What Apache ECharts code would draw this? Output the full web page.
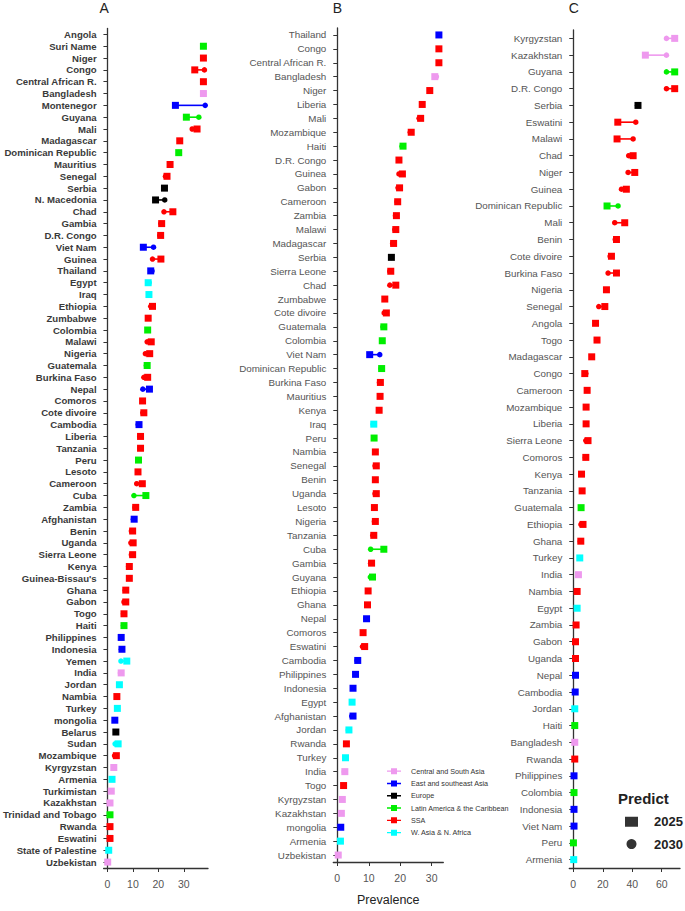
<!DOCTYPE html>
<html><head><meta charset="utf-8">
<script src="https://cdn.jsdelivr.net/npm/echarts@6/dist/echarts.min.js"></script>
<style>html,body{margin:0;padding:0;background:#fff}#chart{width:685px;height:911px}</style>
</head><body><div id="chart"></div>
<script>
// ---------- regions ----------
const regionCodes = ['CSA', 'ESA', 'EUR', 'LAC', 'SSA', 'WANA'];
const regionNames = ['Central and South Asia', 'East and southeast Asia', 'Europe', 'Latin America & the Caribbean', 'SSA', 'W. Asia & N. Africa'];
const regionColors = ['#EE99EE', '#0000FF', '#000000', '#00EE00', '#FF0000', '#00FFFF'];

// ---------- panel A ----------
const countriesA = ['Angola','Suri Name','Niger','Congo','Central African R.','Bangladesh','Montenegor','Guyana','Mali','Madagascar','Dominican Republic','Mauritius','Senegal','Serbia','N. Macedonia','Chad','Gambia','D.R. Congo','Viet Nam','Guinea','Thailand','Egypt','Iraq','Ethiopia','Zumbabwe','Colombia','Malawi','Nigeria','Guatemala','Burkina Faso','Nepal','Comoros','Cote divoire','Cambodia','Liberia','Tanzania','Peru','Lesoto','Cameroon','Cuba','Zambia','Afghanistan','Benin','Uganda','Sierra Leone','Kenya',"Guinea-Bissau's",'Ghana','Gabon','Togo','Haiti','Philippines','Indonesia','Yemen','India','Jordan','Nambia','Turkey','mongolia','Belarus','Sudan','Mozambique','Kyrgyzstan','Armenia','Turkimistan','Kazakhstan','Trinidad and Tobago','Rwanda','Eswatini','State of Palestine','Uzbekistan'];
const regionsA = ['SSA','LAC','SSA','SSA','SSA','CSA','ESA','LAC','SSA','SSA','LAC','SSA','SSA','EUR','EUR','SSA','SSA','SSA','ESA','SSA','ESA','WANA','WANA','SSA','SSA','LAC','SSA','SSA','LAC','SSA','ESA','SSA','SSA','ESA','SSA','SSA','LAC','SSA','SSA','LAC','SSA','ESA','SSA','SSA','SSA','SSA','SSA','SSA','SSA','SSA','LAC','ESA','ESA','WANA','CSA','WANA','SSA','WANA','ESA','EUR','WANA','SSA','CSA','WANA','CSA','CSA','LAC','SSA','SSA','WANA','CSA'];
const prev2025A = [null,37.7,37.7,34.3,37.7,37.7,26.7,31.0,35.2,28.4,28.0,24.6,23.4,22.4,18.9,25.7,21.3,20.9,14.1,21.0,17.0,16.0,16.3,17.7,16.0,15.8,17.2,16.6,15.6,15.8,16.5,13.8,14.3,12.4,13.0,13.0,12.2,12.0,13.7,15.1,11.1,10.5,9.9,10.1,9.9,8.6,8.6,7.2,7.2,6.5,6.5,5.4,5.7,7.6,5.4,4.7,3.7,3.9,2.9,3.3,4.2,3.5,2.5,1.8,1.5,1.0,1.0,1.0,1.0,0.5,0.1];
const prev2030A = [null,37.7,37.7,38.1,37.7,37.7,38.4,35.9,33.3,28.4,28.0,24.6,22.8,22.4,22.5,22.2,21.0,20.6,18.1,17.7,17.5,16.4,16.3,17.0,16.0,15.8,15.6,14.9,15.3,14.3,13.9,13.8,13.9,12.1,12.7,12.8,12.2,12.0,11.5,10.4,10.8,10.2,9.4,9.2,9.4,8.3,8.6,7.0,6.5,6.3,6.3,5.4,5.5,5.3,5.1,4.5,3.7,3.9,2.9,3.3,3.0,2.8,2.5,1.8,1.5,1.0,1.0,1.0,1.0,0.5,0.1];
const ticksA = [0, 10, 20, 30];

// ---------- panel B ----------
const countriesB = ['Thailand','Congo','Central African R.','Bangladesh','Niger','Liberia','Mali','Mozambique','Haiti','D.R. Congo','Guinea','Gabon','Cameroon','Zambia','Malawi','Madagascar','Serbia','Sierra Leone','Chad','Zumbabwe','Cote divoire','Guatemala','Colombia','Viet Nam','Dominican Republic','Burkina Faso','Mauritius','Kenya','Iraq','Peru','Nambia','Senegal','Benin','Uganda','Lesoto','Nigeria','Tanzania','Cuba','Gambia','Guyana','Ethiopia','Ghana','Nepal','Comoros','Eswatini','Cambodia','Philippines','Indonesia','Egypt','Afghanistan','Jordan','Rwanda','Turkey','India','Togo','Kyrgyzstan','Kazakhstan','mongolia','Armenia','Uzbekistan'];
const regionsB = ['ESA','SSA','SSA','CSA','SSA','SSA','SSA','SSA','LAC','SSA','SSA','SSA','SSA','SSA','SSA','SSA','EUR','SSA','SSA','SSA','SSA','LAC','LAC','ESA','LAC','SSA','SSA','SSA','WANA','LAC','SSA','SSA','SSA','SSA','SSA','SSA','SSA','LAC','SSA','LAC','SSA','SSA','ESA','SSA','SSA','ESA','ESA','ESA','WANA','ESA','WANA','SSA','WANA','CSA','SSA','CSA','CSA','ESA','WANA','CSA'];
const prev2025B = [32.3,32.3,32.3,31.0,29.4,27.0,26.5,23.5,20.9,19.6,20.7,19.8,19.2,18.8,18.6,17.9,17.2,17.0,18.6,15.1,15.6,14.8,14.3,10.3,14.1,13.7,13.6,13.3,11.6,11.7,12.1,12.4,12.1,12.4,11.8,12.1,11.6,14.8,10.9,11.2,9.8,9.6,9.3,8.2,8.7,6.5,5.8,5.0,4.7,5.0,3.7,2.9,2.6,2.4,2.0,1.6,1.3,1.1,1.0,0.3];
const prev2030B = [32.3,32.3,32.3,31.5,29.4,27.0,26.0,23.2,20.6,19.6,19.6,19.3,19.0,18.5,18.3,17.6,17.2,16.7,16.7,15.1,14.9,14.5,14.3,13.5,13.9,13.4,13.6,13.3,11.4,11.7,12.1,12.0,12.1,12.0,11.8,11.8,11.3,10.6,10.6,10.5,9.8,9.6,9.1,8.2,8.0,6.3,5.8,5.0,4.7,4.6,3.5,2.7,2.6,2.2,2.0,1.6,1.3,1.1,1.0,0.3];
const ticksB = [0, 10, 20, 30];

// ---------- panel C ----------
const countriesC = ['Kyrgyzstan','Kazakhstan','Guyana','D.R. Congo','Serbia','Eswatini','Malawi','Chad','Niger','Guinea','Dominican Republic','Mali','Benin','Cote divoire','Burkina Faso','Nigeria','Senegal','Angola','Togo','Madagascar','Congo','Cameroon','Mozambique','Liberia','Sierra Leone','Comoros','Kenya','Tanzania','Guatemala','Ethiopia','Ghana','Turkey','India','Nambia','Egypt','Zambia','Gabon','Uganda','Nepal','Cambodia','Jordan','Haiti','Bangladesh','Rwanda','Philippines','Colombia','Indonesia','Viet Nam','Peru','Armenia'];
const regionsC = ['CSA','CSA','LAC','SSA','EUR','SSA','SSA','SSA','SSA','SSA','LAC','SSA','SSA','SSA','SSA','SSA','SSA','SSA','SSA','SSA','SSA','SSA','SSA','SSA','SSA','SSA','SSA','SSA','LAC','SSA','SSA','WANA','CSA','SSA','WANA','SSA','SSA','SSA','ESA','ESA','WANA','LAC','CSA','SSA','ESA','LAC','ESA','ESA','LAC','WANA'];
const prev2025C = [68.8,48.9,68.8,68.8,43.9,30.2,29.7,40.6,41.7,36.0,22.9,34.9,29.3,25.9,29.3,22.5,21.4,15.1,16.1,12.5,7.8,9.4,8.7,8.7,10.0,8.5,5.6,6.0,5.3,6.6,5.1,4.4,3.5,2.6,2.6,1.9,1.5,1.5,1.5,1.3,1.0,1.0,1.0,1.0,0.5,0.5,0.5,0.5,0.1,0.3];
const prev2030C = [63.2,63.2,63.2,63.2,43.6,42.4,40.6,37.6,37.2,32.7,30.4,28.1,28.5,25.0,23.6,22.5,17.3,15.1,15.8,12.5,8.5,9.4,8.4,8.7,8.5,8.2,5.6,6.0,5.3,5.2,4.8,4.4,3.5,2.6,2.6,1.9,1.5,1.5,1.5,1.3,1.0,1.0,1.0,1.0,0.5,0.5,0.5,0.5,0.1,0.3];
const ticksC = [0, 20, 40, 60];

const yearNames = ['2025', '2030'];

// ---------- build ----------
const FONT = "'Liberation Sans', Arial, sans-serif";
const panels = [
  {c: countriesA, r: regionsA, a: prev2025A, b: prev2030A, ticks: ticksA, min: -1.5, max: 39.5,
   grid: {left: 100, top: 28.5, width: 108, height: 839.5}, title: 'A',
   label: {fontWeight: 'bold', color: '#3a3a3a', fontSize: 9.6}},
  {c: countriesB, r: regionsB, a: prev2025B, b: prev2030B, ticks: ticksB, min: -1.27, max: 33.7,
   grid: {left: 333.3, top: 28, width: 110, height: 840.7}, title: 'B',
   label: {fontWeight: 'normal', color: '#555555', fontSize: 9.8}},
  {c: countriesC, r: regionsC, a: prev2025C, b: prev2030C, ticks: ticksC, min: -2.7, max: 72.4,
   grid: {left: 569.3, top: 30, width: 110.7, height: 838}, title: 'C',
   label: {fontWeight: 'normal', color: '#555555', fontSize: 9.8}}
];

const grids = [], xAxes = [], yAxes = [], series = [], titles = [];
panels.forEach((p, k) => {
  grids.push(Object.assign({containLabel: false}, p.grid));
  titles.push({text: p.title, left: p.grid.left - 0.5, top: 1, padding: 0,
    textStyle: {fontFamily: FONT, fontSize: 14, fontWeight: 'normal', color: '#222'}});
  xAxes.push({
    type: 'value', gridIndex: k, min: p.min, max: p.max,
    axisLine: {show: true, lineStyle: {color: '#333', width: 1.3}},
    axisTick: {show: true, length: 4, customValues: p.ticks, lineStyle: {color: '#333'}},
    axisLabel: {customValues: p.ticks, fontFamily: FONT, fontSize: 10.5, color: '#555555', margin: 10},
    splitLine: {show: false},
    name: k === 1 ? 'Prevalence' : '', nameLocation: 'middle', nameGap: 31,
    nameTextStyle: {fontFamily: FONT, fontSize: 12.5, color: '#222'}
  });
  yAxes.push({
    type: 'category', gridIndex: k, data: p.c, inverse: true,
    axisLine: {show: true, lineStyle: {color: '#333', width: 1.3}},
    axisTick: {show: true, length: 4, alignWithLabel: true, lineStyle: {color: '#333'}},
    axisLabel: Object.assign({interval: 0, fontFamily: FONT, margin: 7}, p.label),
    splitLine: {show: false}
  });
  // connecting segments
  const segData = [];
  p.c.forEach((name, i) => {
    if (p.a[i] != null && p.b[i] != null && p.a[i] !== p.b[i]) {
      segData.push([p.a[i], p.b[i], i, regionCodes.indexOf(p.r[i])]);
    }
  });
  series.push({
    type: 'custom', name: 'seg' + k, xAxisIndex: k, yAxisIndex: k, z: 1, silent: true,
    encode: {x: [0, 1], y: 2},
    data: segData,
    renderItem: function (params, api) {
      const p1 = api.coord([api.value(0), api.value(2)]);
      const p2 = api.coord([api.value(1), api.value(2)]);
      return {type: 'line', shape: {x1: p1[0], y1: p1[1], x2: p2[0], y2: p2[1]},
        style: {stroke: regionColors[api.value(3)], lineWidth: 1.6}};
    }
  });
  regionCodes.forEach((code, j) => {
    const d25 = [], d30 = [];
    p.c.forEach((name, i) => {
      if (p.r[i] !== code) return;
      if (p.a[i] != null) d25.push([p.a[i], name]);
      if (p.b[i] != null) d30.push([p.b[i], name]);
    });
    series.push({type: 'scatter', name: regionNames[j], xAxisIndex: k, yAxisIndex: k, z: 3,
      symbol: 'circle', symbolSize: 5.5, itemStyle: {color: regionColors[j], opacity: 1}, data: d30});
    series.push({type: 'scatter', name: regionNames[j], xAxisIndex: k, yAxisIndex: k, z: 4,
      symbol: 'rect', symbolSize: [7, 7], itemStyle: {color: regionColors[j], opacity: 1}, data: d25});
  });
});
// dummy series for the Predict legend
series.push({type: 'scatter', name: yearNames[0], xAxisIndex: 2, yAxisIndex: 2, symbol: 'rect', itemStyle: {color: '#000'}, data: []});
series.push({type: 'scatter', name: yearNames[1], xAxisIndex: 2, yAxisIndex: 2, symbol: 'circle', itemStyle: {color: '#000'}, data: []});

titles.push({text: 'Predict', left: 618, top: 791, padding: 0,
  textStyle: {fontFamily: FONT, fontSize: 15, fontWeight: 'bold', color: '#222'}});

const legendIcon = 'path://M0,6.3H4V4H10V6.3H14V7.7H10V10H4V7.7H0Z';
const option = {
  backgroundColor: '#fff',
  animation: false,
  title: titles,
  grid: grids,
  xAxis: xAxes,
  yAxis: yAxes,
  legend: [
    {data: regionNames.map(n => ({name: n, icon: legendIcon})), orient: 'vertical', left: 387, top: 765,
     itemWidth: 14, itemHeight: 6, itemGap: 0, padding: 0, selectedMode: false,
     textStyle: {fontFamily: FONT, fontSize: 7.2, color: '#333', lineHeight: 12.3, padding: [0, 0, 0, 5]}},
    {data: [{name: yearNames[0], icon: 'rect'}, {name: yearNames[1], icon: 'circle'}], orient: 'vertical',
     left: 625, top: 810.6, itemWidth: 13, itemHeight: 10, itemGap: 0, padding: 0, selectedMode: false,
     textStyle: {fontFamily: FONT, fontSize: 13, fontWeight: 'bold', color: '#222', lineHeight: 22.3, padding: [0, 0, 0, 11]}}
  ],
  series: series
};
const chart = echarts.init(document.getElementById('chart'), null, {renderer: 'svg'});
chart.setOption(option);
</script>
</body></html>
